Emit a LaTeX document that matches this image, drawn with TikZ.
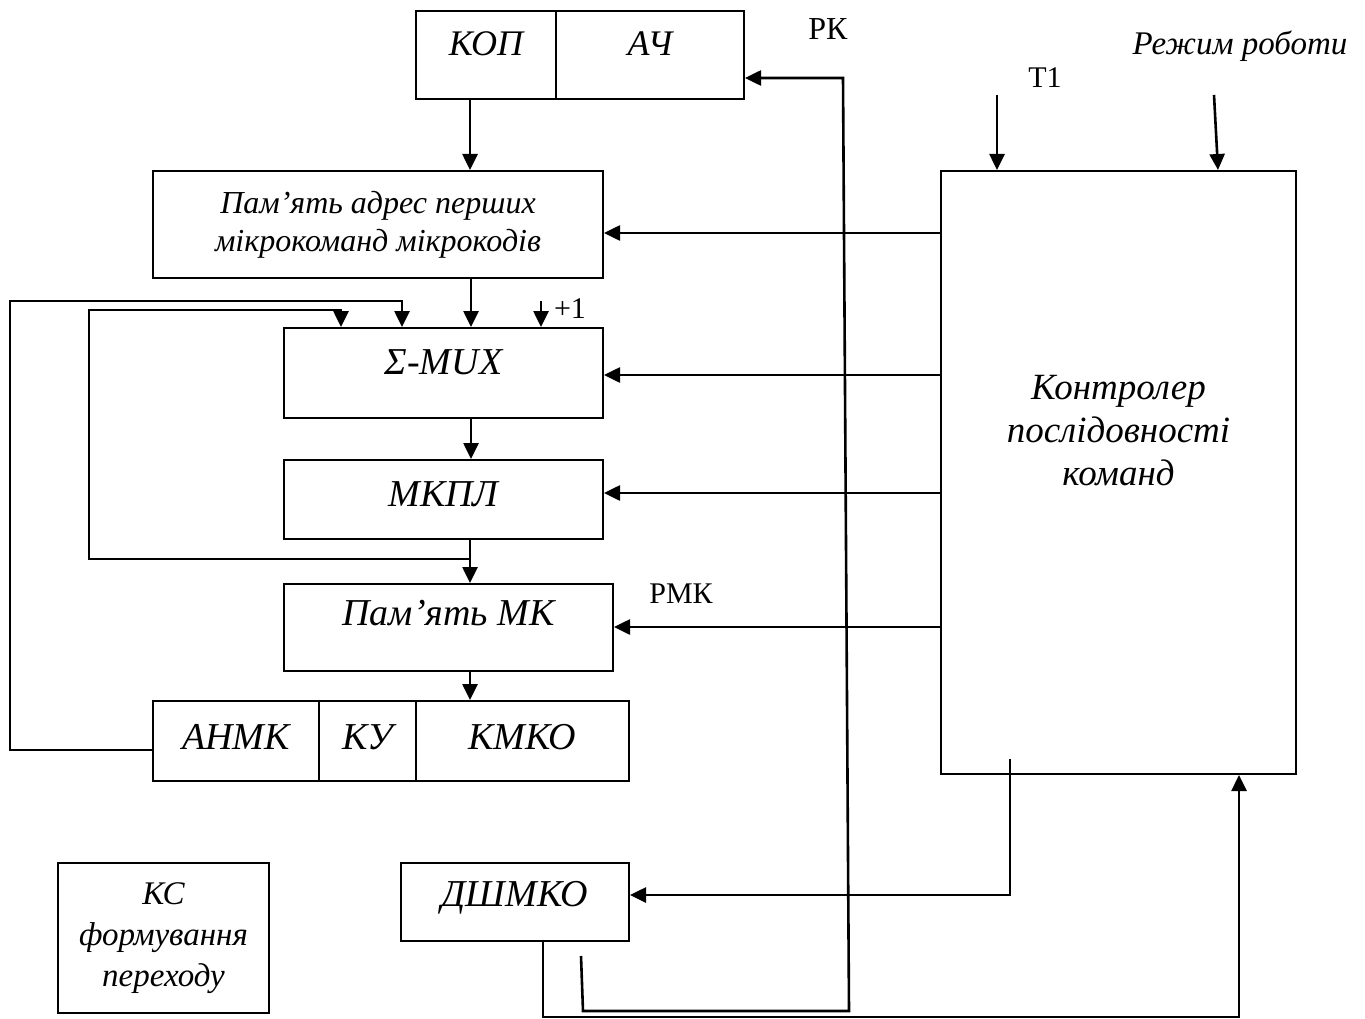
\documentclass[tikz,border=0pt]{standalone}
\usepackage{fontspec}
\setmainfont{Liberation Serif}
\usetikzlibrary{arrows.meta}

\begin{document}
\begin{tikzpicture}[x=1pt, y=-1pt, >={Triangle[length=16pt,width=15pt]}, line width=2.6pt,
  blk/.style={draw, line width=2pt, inner sep=0pt, anchor=north west, align=center, font=\fontsize{38}{42}\selectfont\itshape},
  txtup/.style={text height=25pt, text depth=#1},
  lbl/.style={inner sep=0pt, font=\fontsize{30}{34}\selectfont}]
\useasboundingbox (0,0) rectangle (1365,1019);
\node (kop) [blk, txtup=24pt, minimum width=140pt, minimum height=88pt, font=\fontsize{36}{40}\selectfont\itshape] at (415,10) {КОП};
\node (ach) [blk, txtup=24pt, minimum width=188pt, minimum height=88pt, font=\fontsize{36}{40}\selectfont\itshape] at (555,10) {АЧ};
\node (adr) [blk, minimum width=450pt, minimum height=107pt, font=\fontsize{32}{38}\selectfont\itshape] at (152,170) {Пам’ять адрес перших\\мікрокоманд мікрокодів};
\node (mux) [blk, txtup=22pt, minimum width=319pt, minimum height=90pt] at (283,327) {Σ-MUX};
\node (mkpl) [blk, txtup=12pt, minimum width=319pt, minimum height=79pt] at (283,459) {МКПЛ};
\node (pmk) [blk, txtup=30pt, minimum width=329pt, minimum height=87pt] at (283,583) {Пам’ять МК};
\node (anmk) [blk, txtup=8pt, minimum width=166pt, minimum height=80pt] at (152,700) {АНМК};
\node (ku) [blk, txtup=8pt, minimum width=97pt, minimum height=80pt] at (318,700) {КУ};
\node (kmko) [blk, txtup=8pt, minimum width=213pt, minimum height=80pt] at (415,700) {КМКО};
\node (ctrl) [blk, minimum width=355pt, minimum height=603pt, text height=26pt, text depth=0pt, font=\fontsize{37}{43}\selectfont\itshape] at (940,170) {Контролер\\послідовності\\команд};
\node (ks) [blk, minimum width=211pt, minimum height=150pt, font=\fontsize{33}{41}\selectfont\itshape] at (57,862) {КС\\формування\\переходу};
\node (dsh) [blk, txtup=16pt, minimum width=228pt, minimum height=78pt] at (400,862) {ДШМКО};
\node (rk) [lbl, font=\fontsize{32}{36}\selectfont] at (828,29) {РК};
\node (t1) [lbl] at (1045,78) {Т1};
\node (rezh) [lbl, font=\fontsize{33}{38}\selectfont\itshape] at (1240,46) {Режим роботи};
\node (rmk) [lbl] at (681,594) {РМК};
\node (plus) [lbl] at (570,309) {+1};
\coordinate (inc) at (541,301);
\coordinate (jn) at (470,559);
\coordinate (t1in) at (997,95);
\coordinate (rezhin) at (1214,95);
\coordinate (decout) at (1010,759);
\coordinate (rkin) at (581,956);
\draw[->] (kop.south -| 470,0) -- (adr.north -| 470,0);
\draw[->] (adr.south -| 471,0) -- (mux.north -| 471,0);
\draw[->] (mux.south -| 471,0) -- (mkpl.north -| 471,0);
\draw[->] (mkpl.south -| 470,0) -- (pmk.north -| 470,0);
\draw[->] (pmk.south -| 470,0) -- (kmko.north -| 470,0);
\draw[->] (inc) -- (mux.north -| inc);
\draw[->] (anmk.west |- 0,750) -| (10,301) -| (mux.north -| 402,0);
\draw[->] (jn) -| (89,310) -| (mux.north -| 341,0);
\draw[->] (ctrl.west |- 0,233) -- (adr.east |- 0,233);
\draw[->] (ctrl.west |- 0,375) -- (mux.east |- 0,375);
\draw[->] (ctrl.west |- 0,493) -- (mkpl.east |- 0,493);
\draw[->] (ctrl.west |- 0,627) -- (pmk.east |- 0,627);
\draw[->] (t1in) -- (ctrl.north -| t1in);
\draw[->] (rezhin) -- (ctrl.north -| 1218,0);
\draw[->] (decout) |- (dsh.east |- 0,895);
\draw[->] (dsh.south -| 543,0) -- (543,1017) -| (ctrl.south -| 1239,0);
\draw[->] (rkin) -- (583,1011) -- (849,1011) -- (843,78) -- (ach.east |- 0,78);
\end{tikzpicture}
\end{document}
